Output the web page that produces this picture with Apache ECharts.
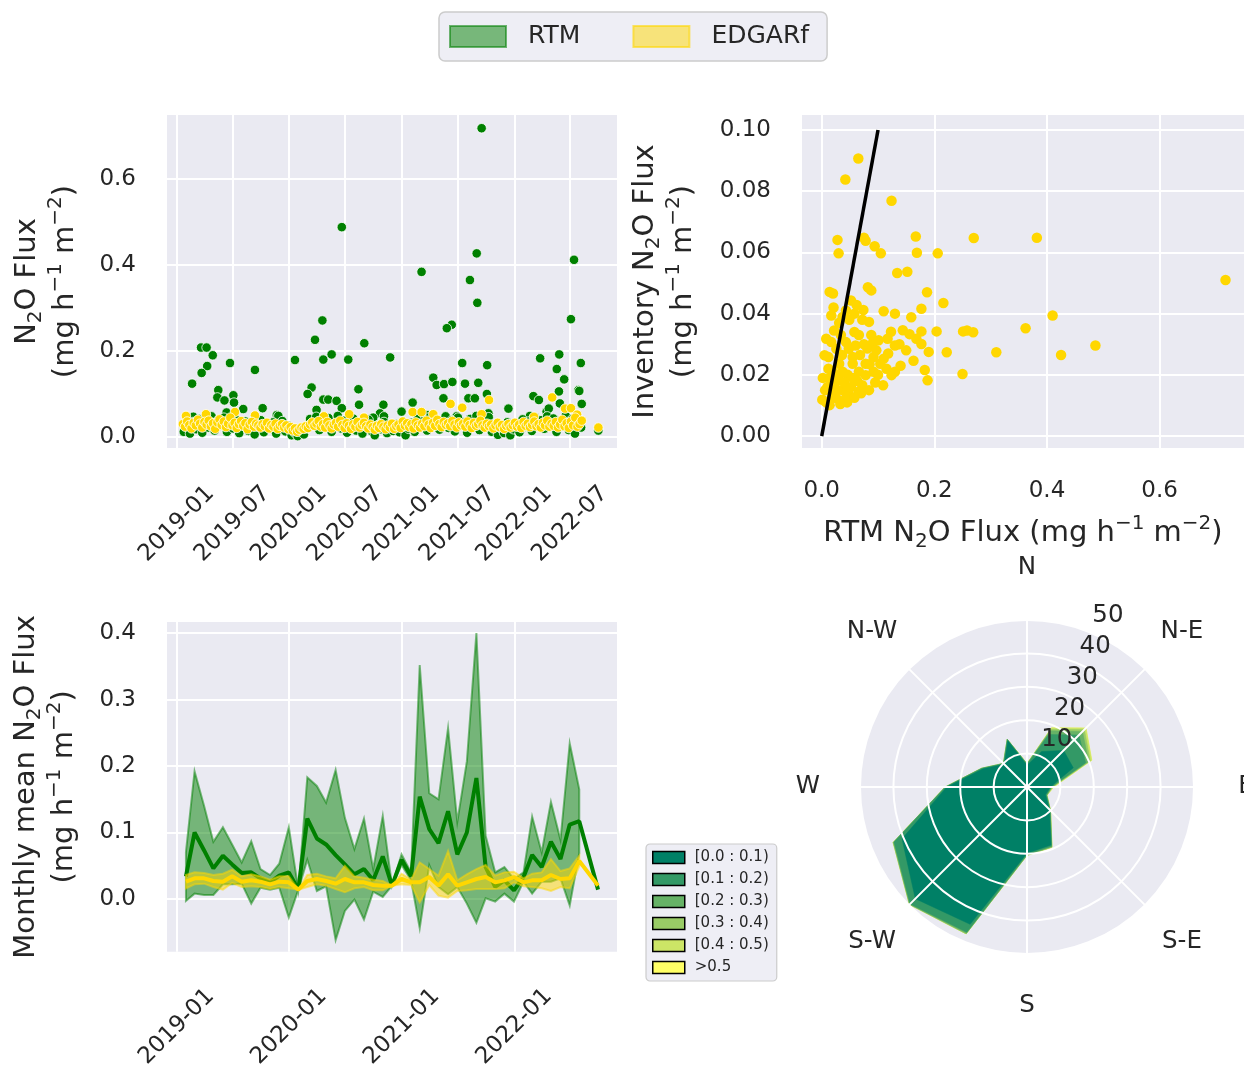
<!DOCTYPE html>
<html><head><meta charset="utf-8">
<script src="https://cdn.jsdelivr.net/npm/echarts@6/dist/echarts.min.js"></script>
<style>html,body{margin:0;padding:0;background:#fff}#c{width:1244px;height:1071px}</style>
</head><body><div id="c"></div>
<script>
// ---------------- DATA ----------------
// Top-left: sample day offsets from 2019-01-01 and flux (mg h-1 m-2)
const tlRTM = [
[990,0.718],[536,0.488],[974,0.427],[1290,0.412],[795,0.384],[952,0.365],[976,0.312],[1280,0.274],[473,0.271],[893,0.261],
[877,0.253],[449,0.226],[609,0.218],[79,0.208],[97,0.208],[117,0.19],[503,0.192],[476,0.180],[557,0.180],[693,0.185],
[384,0.179],[1242,0.192],[1180,0.183],[1312,0.172],[927,0.172],[173,0.172],[1008,0.167],[99,0.165],[254,0.156],[1234,0.158],
[81,0.149],[50,0.124],[1258,0.134],[833,0.138],[844,0.121],[868,0.123],[895,0.128],[936,0.124],[979,0.126],[135,0.109],
[438,0.115],[425,0.100],[590,0.111],[1241,0.106],[1304,0.109],[1307,0.107],[132,0.092],[155,0.085],[184,0.097],[866,0.090],
[1007,0.100],[1158,0.095],[1176,0.086],[947,0.090],[968,0.090],[476,0.087],[492,0.087],[519,0.084],[592,0.075],[671,0.075],
[766,0.080],[1315,0.077],[1244,0.078],[1077,0.066],[730,0.059],[216,0.065],[279,0.067],[186,0.080],[162,0.057],[454,0.063],
[536,0.067],[812,0.051],[1201,0.059],[1208,0.066],[1012,0.055],[660,0.055],[325,0.051],[330,0.049],[54,0.047],[638,0.045],
[673,0.048],[909,0.048],[1147,0.049],
[23,0.012],[33,0.025],[43,0.008],[53,0.035],[63,0.018],[73,0.042],[83,0.010],[93,0.030],[103,0.022],[113,0.048],[123,0.015],
[133,0.038],[143,0.027],[153,0.045],[163,0.012],[173,0.033],[183,0.020],[193,0.040],[203,0.009],[213,0.028],[223,0.036],
[233,0.014],[243,0.031],[253,0.006],[263,0.024],[273,0.039],[283,0.011],[293,0.027],[303,0.019],[313,0.034],[323,0.008],
[333,0.022],[343,0.037],[353,0.013],[363,0.026],[373,0.004],[383,0.010],[393,0.002],[403,0.015],[413,0.006],[423,0.020],
[433,0.042],[443,0.028],[453,0.047],[463,0.016],[473,0.036],[483,0.024],[493,0.044],[503,0.012],[513,0.031],[523,0.049],
[533,0.020],[543,0.038],[553,0.010],[563,0.029],[573,0.043],[583,0.015],[593,0.033],[603,0.008],[613,0.025],[623,0.040],
[633,0.013],[643,0.004],[653,0.027],[663,0.018],[673,0.035],[683,0.009],[693,0.022],[703,0.014],[713,0.030],[723,0.011],
[733,0.024],[743,0.004],[753,0.019],[763,0.033],[773,0.012],[783,0.044],[793,0.026],[803,0.038],[813,0.015],[823,0.047],
[833,0.029],[843,0.040],[853,0.017],[863,0.036],[873,0.048],[883,0.021],[893,0.039],[903,0.013],[913,0.045],[923,0.027],
[933,0.034],[943,0.010],[953,0.042],[963,0.025],[973,0.049],[983,0.016],[993,0.037],[1003,0.023],[1013,0.046],[1023,0.012],
[1033,0.028],[1043,0.005],[1053,0.020],[1063,0.009],[1073,0.034],[1083,0.004],[1093,0.018],[1103,0.030],[1113,0.011],
[1123,0.041],[1133,0.024],[1143,0.036],[1153,0.014],[1163,0.046],[1173,0.027],[1183,0.039],[1193,0.019],[1203,0.048],
[1213,0.031],[1223,0.043],[1233,0.012],[1243,0.037],[1253,0.025],[1263,0.049],[1273,0.016],[1283,0.041],[1293,0.008],
[1303,0.034],[1313,0.022],[1369,0.015]
];
const tlEDGAR = [
[30,0.049],[95,0.053],[189,0.058],[254,0.050],[560,0.053],[478,0.048],[608,0.045],[766,0.058],[795,0.058],[833,0.053],
[889,0.077],[927,0.068],[1014,0.086],[990,0.053],[1160,0.047],[1219,0.092],[1261,0.066],[1280,0.067],[1297,0.046],[1300,0.052],
[20,0.030],[27,0.024],[34,0.036],[41,0.028],[48,0.020],[55,0.033],[62,0.027],[69,0.040],[76,0.031],[83,0.022],[90,0.035],
[97,0.029],[104,0.038],[111,0.025],[118,0.032],[125,0.019],[132,0.034],[139,0.041],[146,0.028],[153,0.036],[160,0.023],
[167,0.031],[174,0.045],[181,0.027],[188,0.033],[195,0.021],[202,0.030],[209,0.037],[216,0.026],[223,0.032],[230,0.018],
[237,0.029],[244,0.035],[251,0.024],[258,0.031],[265,0.027],[272,0.022],[279,0.030],[286,0.025],[293,0.033],[300,0.020],
[307,0.028],[314,0.024],[321,0.031],[328,0.019],[335,0.026],[342,0.030],[349,0.022],[356,0.027],[363,0.018],[370,0.023],
[377,0.015],[384,0.020],[391,0.012],[398,0.017],[405,0.022],[412,0.019],[419,0.025],[426,0.021],[433,0.029],[440,0.034],
[447,0.026],[454,0.031],[461,0.037],[468,0.024],[475,0.030],[482,0.022],[489,0.035],[496,0.027],[503,0.020],[510,0.029],
[517,0.033],[524,0.024],[531,0.038],[538,0.028],[545,0.021],[552,0.032],[559,0.026],[566,0.019],[573,0.030],[580,0.024],
[587,0.035],[594,0.022],[601,0.028],[608,0.033],[615,0.025],[622,0.020],[629,0.029],[636,0.023],[643,0.017],[650,0.026],
[657,0.021],[664,0.030],[671,0.024],[678,0.018],[685,0.027],[692,0.022],[699,0.031],[706,0.019],[713,0.025],[720,0.029],
[727,0.021],[734,0.036],[741,0.026],[748,0.032],[755,0.023],[762,0.030],[769,0.020],[776,0.034],[783,0.027],[790,0.022],
[797,0.031],[804,0.025],[811,0.038],[818,0.029],[825,0.021],[832,0.033],[839,0.026],[846,0.040],[853,0.030],[860,0.023],
[867,0.035],[874,0.028],[881,0.032],[888,0.025],[895,0.037],[902,0.029],[909,0.022],[916,0.034],[923,0.027],[930,0.031],
[937,0.024],[944,0.036],[951,0.028],[958,0.021],[965,0.033],[972,0.026],[979,0.030],[986,0.038],[993,0.027],[1000,0.022],
[1007,0.031],[1014,0.025],[1021,0.029],[1028,0.020],[1035,0.027],[1042,0.033],[1049,0.023],[1056,0.028],[1063,0.019],
[1070,0.026],[1077,0.030],[1084,0.022],[1091,0.027],[1098,0.033],[1105,0.024],[1112,0.029],[1119,0.021],[1126,0.035],
[1133,0.026],[1140,0.031],[1147,0.023],[1154,0.028],[1161,0.036],[1168,0.025],[1175,0.030],[1182,0.022],[1189,0.033],
[1196,0.027],[1203,0.038],[1210,0.024],[1217,0.031],[1224,0.026],[1231,0.035],[1238,0.022],[1245,0.029],[1252,0.040],
[1259,0.025],[1266,0.032],[1273,0.021],[1280,0.036],[1287,0.027],[1294,0.045],[1301,0.024],[1308,0.030],[1315,0.038],
[1369,0.022]
];
// Top-right: [RTM, inventory] pairs
const trPairs = [
[0.065,0.0907],[0.042,0.0838],[0.124,0.0769],[0.028,0.0641],[0.075,0.0648],[0.078,0.0638],[0.094,0.0620],[0.105,0.0597],
[0.030,0.0597],[0.167,0.0652],[0.169,0.0599],[0.206,0.0597],[0.270,0.0647],[0.382,0.0648],[0.717,0.0510],[0.134,0.0533],
[0.152,0.0537],[0.014,0.0471],[0.020,0.0466],[0.082,0.0486],[0.088,0.0476],[0.187,0.0470],[0.216,0.0435],[0.177,0.0416],
[0.110,0.0408],[0.074,0.0412],[0.021,0.0420],[0.052,0.0443],[0.062,0.0428],[0.130,0.0400],[0.159,0.0388],[0.410,0.0394],
[0.362,0.0352],[0.486,0.0296],[0.425,0.0265],[0.310,0.0274],[0.251,0.0342],[0.258,0.0345],[0.269,0.0339],[0.204,0.0342],
[0.222,0.0274],[0.250,0.0203],[0.188,0.0182],[0.183,0.0216],[0.190,0.0275],[0.163,0.0246],[0.177,0.0301],[0.168,0.0318],
[0.177,0.0342],[0.156,0.0333],[0.144,0.0346],[0.123,0.0341],[0.130,0.0296],[0.117,0.0318],[0.101,0.0313],[0.091,0.0305],
[0.109,0.0166],[0.084,0.0150],[0.124,0.0199],[0.130,0.0210],[0.049,0.0134],[0.081,0.0286],[0.084,0.0373],[0.058,0.0400],
[0.037,0.0389],[0.017,0.0394],[0.008,0.0318],[0.005,0.0264],[0.002,0.0190],[0.001,0.0119],[0.014,0.0101],[0.026,0.0124],
[0.037,0.0150],[0.055,0.0190],[0.072,0.0166],[0.066,0.0210],[0.055,0.0236],[0.031,0.0236],[0.020,0.0210],[0.026,0.0285],
[0.043,0.0307],[0.060,0.0296],[0.049,0.0380],[0.031,0.0370],[0.012,0.0258],[0.020,0.0150],[0.043,0.0124],[0.066,0.0146],
[0.092,0.0210],[0.104,0.0236],[0.078,0.0236],[0.092,0.0258],[0.110,0.0253],[0.031,0.0199],[0.078,0.0199],[0.055,0.0258],
[0.037,0.0210],[0.014,0.0190],[0.066,0.0330],[0.017,0.0307],[0.043,0.0410],[0.072,0.0380],[0.010,0.0160],[0.024,0.0175],
[0.036,0.0265],[0.048,0.0285],[0.058,0.0340],[0.068,0.0265],[0.085,0.0235],[0.097,0.0280],[0.046,0.0200],[0.034,0.0330],
[0.022,0.0345],[0.012,0.0220],[0.006,0.0150],[0.028,0.0150],[0.040,0.0175],[0.052,0.0160],[0.063,0.0180],[0.075,0.0300],
[0.088,0.0330],[0.100,0.0200],[0.118,0.0270],[0.140,0.0230],[0.150,0.0280],[0.138,0.0300],[0.115,0.0220],[0.095,0.0175],
[0.070,0.0140],[0.058,0.0125],[0.045,0.0110],[0.033,0.0105],[0.018,0.0125],[0.008,0.0110]
];
const oneToOne = [[0,0],[0.1,0.1]];
// Bottom-left: monthly statistics
const months = [
'2019-01','2019-02','2019-03','2019-04','2019-05','2019-06','2019-07','2019-08','2019-09','2019-10','2019-11','2019-12',
'2020-01','2020-02','2020-03','2020-04','2020-05','2020-06','2020-07','2020-08','2020-09','2020-10','2020-11','2020-12',
'2021-01','2021-02','2021-03','2021-04','2021-05','2021-06','2021-07','2021-08','2021-09','2021-10','2021-11','2021-12',
'2022-01','2022-02','2022-03','2022-04','2022-05','2022-06','2022-07','2022-09'];
const rtmMean = [
0.034,0.100,0.073,0.046,0.065,0.052,0.039,0.040,0.031,0.025,0.035,0.040,
0.014,0.121,0.091,0.082,0.066,0.052,0.037,0.045,0.028,0.064,0.020,0.059,
0.034,0.154,0.105,0.084,0.132,0.067,0.100,0.182,0.048,0.018,0.028,0.013,
0.033,0.066,0.048,0.086,0.060,0.112,0.117,0.014];
const rtmStd = [
0.037,0.092,0.067,0.040,0.043,0.030,0.016,0.047,0.014,0.011,0.018,0.068,
0.000,0.062,0.079,0.063,0.128,0.070,0.038,0.076,0.017,0.061,0.000,0.008,
0.006,0.198,0.054,0.066,0.125,0.049,0.107,0.218,0.047,0.022,0.020,0.017,
0.007,0.058,0.022,0.060,0.029,0.122,0.048,null];
const edgMean = [
0.026,0.031,0.031,0.027,0.026,0.034,0.026,0.028,0.026,0.022,0.026,0.025,
0.014,0.027,0.030,0.027,0.023,0.030,0.025,0.025,0.021,0.020,0.020,0.030,
0.025,0.025,0.033,0.020,0.037,0.020,0.025,0.030,0.033,0.025,0.028,0.033,
0.025,0.028,0.028,0.036,0.030,0.031,0.057,0.020];
const edgStd = [
0.010,0.009,0.008,0.009,0.012,0.010,0.008,0.009,0.008,0.007,0.008,0.009,
0.000,0.009,0.008,0.007,0.008,0.020,0.009,0.007,0.008,0.007,0.000,0.008,
0.004,0.030,0.012,0.015,0.035,0.008,0.012,0.015,0.018,0.010,0.012,0.008,
0.006,0.010,0.012,0.024,0.012,0.015,0.008,null];
// Tick labels
const tlTicks = ['2019-01','2019-07','2020-01','2020-07','2021-01','2021-07','2022-01','2022-07'];
const blTicks = ['2019-01','2020-01','2021-01','2022-01'];
const tlYTicks = [0,0.2,0.4,0.6];
const trXTicks = [0,0.2,0.4,0.6];
const trYTicks = [0,0.02,0.04,0.06,0.08,0.10];
const blYTicks = [0,0.1,0.2,0.3,0.4];
// Wind rose: 16 directions from N clockwise, counts per speed bin
const roseAngles = [0,22.5,45,67.5,90,112.5,135,157.5,180,202.5,225,247.5,270,292.5,315,337.5];
const binNames = ['[0.0 : 0.1)','[0.1 : 0.2)','[0.2 : 0.3)','[0.3 : 0.4)','[0.4 : 0.5)','>0.5'];
const bin0 = [6.5,11.5,15.5,15.0,7.0,6.0,9.5,18.8,19.8,44.5,47.3,40.5,24.0,14.2,9.6,15.0];
const bin1 = [0.3,5.5,6.5,4.0,0.3,0.3,0.3,0.4,0.4,2.6,2.2,2.6,0.4,0.4,0.3,0.4];
const bin2 = [0.1,1.2,1.5,1.0,0.2,0.1,0.1,0.2,0.2,0.3,0.2,0.2,0.1,0.1,0.1,0.1];
const bin3 = [0.1,0.5,0.8,0.5,0.2,0.1,0.1,0.1,0.1,0.2,0.1,0.1,0.0,0.0,0.0,0.0];
const bin4 = [0.0,0.5,0.7,0.5,0.3,0.0,0.0,0.1,0.0,0.0,0.0,0.0,0.0,0.0,0.0,0.0];
const bin5 = [0,0,0,0,0,0,0,0,0,0,0,0,0,0,0,0];
const roseRadTicks = [10,20,30,40,50];
const roseDirLabels = ['N','N-E','E','S-E','S','S-W','W','N-W'];
const roseDirAngles = [0,45,90,135,180,225,270,315];

// ---------------- HELPERS ----------------
const FONT = 'DejaVu Sans';
const TXT = '#262626';
const TICK = 23;
const DAY = 86400000;
const T0 = Date.UTC(2019,0,1);
const dayTs = d => T0 + d*DAY;
const monthStart = s => { const [y,m] = s.split('-').map(Number); return Date.UTC(y, m-1, 1); };
const monthEnd = s => { const [y,m] = s.split('-').map(Number); return Date.UTC(y, m, 0); };
const fmtDate = v => { const d = new Date(v); return d.getUTCFullYear() + '-' + String(d.getUTCMonth()+1).padStart(2,'0'); };
const monthTs = months.map(monthEnd);
const binColors = ['#008066','#339966','#66b266','#99cc66','#cce566','#ffff66'];
const bins = [bin0,bin1,bin2,bin3,bin4,bin5];
const cum = []; bins.forEach((b,k)=>{ cum.push(b.map((v,j)=> v + (k>0 ? cum[k-1][j] : 0))); });

const X_MIN = dayTs(-31.5), X_MAX = dayTs(1429.5);
function gridAxisCommon(){
  return {
    axisLine:{show:false}, axisTick:{show:false},
    splitLine:{show:true, lineStyle:{color:'#ffffff', width:2}}
  };
}
function timeX(gridIndex, ticks, margin){
  return Object.assign(gridAxisCommon(), {
    type:'value', gridIndex, min:X_MIN, max:X_MAX,
    axisTick:{show:false, customValues: ticks.map(monthStart)},
    axisLabel:{customValues: ticks.map(monthStart), formatter: fmtDate, rotate:45, align:'center', verticalAlign:'middle',
      margin, color:TXT, fontSize:TICK, fontFamily:FONT}
  });
}
function valAxis(gridIndex, min, max, ticks, dec, extra){
  return Object.assign(gridAxisCommon(), {
    type:'value', gridIndex, min, max,
    axisTick:{show:false, customValues: ticks},
    axisLabel:{customValues: ticks, formatter: v => Number(v).toFixed(dec), margin:31, color:TXT, fontSize:TICK, fontFamily:FONT,
      padding:[7,0,0,0]}
  }, extra || {});
}
// math-like rich text for axis titles
const richName = {
  t:{fontSize:29, color:TXT, fontFamily:FONT, lineHeight:38},
  sup:{fontSize:20, color:TXT, fontFamily:FONT, lineHeight:21, verticalAlign:'top'},
  sub:{fontSize:20, color:TXT, fontFamily:FONT, lineHeight:21, verticalAlign:'bottom'}
};
const nameStyle = {fontSize:29, color:TXT, fontFamily:FONT, lineHeight:38, rich: richName};
const UNIT = '{t|(mg h}{sup|\u22121}{t| m}{sup|\u22122}{t|)}';
const N2O = '{t|N}{sub|2}{t|O Flux}';

function band(means, stds, color, z){
  const pts = [];
  months.forEach((m,i)=>{ if (stds[i] != null) pts.push([monthTs[i], means[i]-stds[i], means[i]+stds[i]]); });
  return {
    type:'custom', xAxisIndex:2, yAxisIndex:2, z, silent:true, data: pts,
    encode:{x:0, y:[1,2]},
    renderItem(params, api){
      if (params.dataIndex !== 0) return null;
      const up = pts.map(p => api.coord([p[0], p[2]]));
      const lo = pts.map(p => api.coord([p[0], p[1]])).reverse();
      return {type:'polygon', shape:{points: up.concat(lo)}, style:{fill:color, stroke:color, lineWidth:2}};
    }
  };
}

const series = [];
// top-left scatter
series.push({type:'scatter', name:'RTM pts', xAxisIndex:0, yAxisIndex:0, symbolSize:9.5, silent:true,
  itemStyle:{color:'#008000', borderColor:'#ffffff', borderWidth:0.8, opacity:1},
  data: tlRTM.map(p => [dayTs(p[0]), p[1]])});
series.push({type:'scatter', name:'EDGARf pts', xAxisIndex:0, yAxisIndex:0, symbolSize:9.5, silent:true,
  itemStyle:{color:'#FFD700', borderColor:'#ffffff', borderWidth:0.8, opacity:1},
  data: tlEDGAR.map(p => [dayTs(p[0]), p[1]])});
// top-right
series.push({type:'scatter', name:'pairs', xAxisIndex:1, yAxisIndex:1, symbolSize:10.5, silent:true,
  itemStyle:{color:'#FFD700', opacity:1}, data: trPairs});
series.push({type:'line', name:'1:1', xAxisIndex:1, yAxisIndex:1, symbol:'none', silent:true,
  lineStyle:{color:'#000', width:3.5}, data: oneToOne, z:5});
// bottom-left
series.push(band(rtmMean, rtmStd, 'rgba(0,128,0,0.5)', 2));
series.push({type:'line', name:'RTM', xAxisIndex:2, yAxisIndex:2, symbol:'none', silent:true, z:3,
  lineStyle:{color:'#008000', width:4}, itemStyle:{color:'#008000'},
  data: months.map((m,i)=>[monthTs[i], rtmMean[i]])});
series.push(band(edgMean, edgStd, 'rgba(255,215,0,0.5)', 4));
series.push({type:'line', name:'EDGARf', xAxisIndex:2, yAxisIndex:2, symbol:'none', silent:true, z:5,
  lineStyle:{color:'#FFD700', width:4}, itemStyle:{color:'#FFD700'},
  data: months.map((m,i)=>[monthTs[i], edgMean[i]])});
// wind rose polygons: largest cumulative first, innermost on top
for (let k = 5; k >= 0; k--) {
  const c = cum[k];
  series.push({type:'custom', name: binNames[k], coordinateSystem:'polar', polarIndex:0, z:2+(5-k)*0.01, silent:true,
    itemStyle:{color: binColors[k]},
    data: c.map((r,j)=>[r, roseAngles[j]]),
    renderItem(params, api){
      if (params.dataIndex !== 0) return null;
      const pts = c.map((r,j)=>api.coord([r, roseAngles[j]]));
      return {type:'polygon', shape:{points:pts}, style:{fill: binColors[k], stroke: binColors[k], lineWidth:0.5}};
    }});
}
// rose direction labels
series.push({type:'custom', coordinateSystem:'polar', polarIndex:1, z:20, silent:true,
  data: roseDirAngles.map(a=>[65.6, a]),
  renderItem(params, api){
    const p = api.coord([api.value(0), api.value(1)]);
    return {type:'text', x:p[0], y:p[1], style:{text: roseDirLabels[params.dataIndex], fill:TXT, fontSize:24.5, fontFamily:FONT, align:'center', verticalAlign:'middle'}};
  }});
// rose radial labels
series.push({type:'custom', coordinateSystem:'polar', polarIndex:1, z:20, silent:true,
  data: roseRadTicks.map(r=>[r, 22.5]),
  renderItem(params, api){
    const p = api.coord([api.value(0), api.value(1)]);
    return {type:'text', x:p[0]+17, y:p[1]-17, style:{text: String(roseRadTicks[params.dataIndex]), fill:TXT, fontSize:24.5, fontFamily:FONT, align:'center', verticalAlign:'middle'}};
  }});

const polarAxisHidden = {axisLine:{show:false}, axisTick:{show:false}, axisLabel:{show:false}, splitLine:{show:false}};
const option = {
  animation:false,
  textStyle:{fontFamily:FONT},
  grid:[
    {left:167, top:115, width:450, height:333, show:true, backgroundColor:'#eaeaf2', borderWidth:0},
    {left:802, top:115, width:450, height:333, show:true, backgroundColor:'#eaeaf2', borderWidth:0},
    {left:167, top:622, width:450, height:331, show:true, backgroundColor:'#eaeaf2', borderWidth:0}
  ],
  xAxis:[
    timeX(0, tlTicks, 76),
    valAxis(1, -0.035, 0.7498, trXTicks, 1, {name:'{t|RTM }' + N2O + '{t| }' + UNIT, nameLocation:'middle', nameGap:66,
      nameTextStyle:nameStyle,
      axisLabel:{customValues: trXTicks, formatter: v=>Number(v).toFixed(1), margin:32, color:TXT, fontSize:TICK, fontFamily:FONT}}),
    timeX(2, blTicks, 75)
  ],
  yAxis:[
    valAxis(0, -0.0256, 0.7488, tlYTicks, 1, {name: N2O + '\n' + UNIT, nameLocation:'middle', nameRotate:90, nameGap:83, nameTextStyle:nameStyle}),
    valAxis(1, -0.0039, 0.1049, trYTicks, 2, {name:'{t|Inventory }' + N2O + '\n' + UNIT, nameLocation:'middle', nameRotate:90, nameGap:100, nameTextStyle:nameStyle}),
    valAxis(2, -0.0795, 0.4168, blYTicks, 1, {name:'{t|Monthly mean }' + N2O + '\n' + UNIT, nameLocation:'middle', nameRotate:90, nameGap:84, nameTextStyle:nameStyle})
  ],
  polar:[{center:[1027,787], radius:167},{center:[1027,787], radius:167}],
  angleAxis:[
    Object.assign({polarIndex:0, type:'value', min:0, max:360, interval:45, startAngle:90, clockwise:true, z:0}, polarAxisHidden),
    Object.assign({polarIndex:1, type:'value', min:0, max:360, interval:45, startAngle:90, clockwise:true, z:10}, polarAxisHidden,
      {splitLine:{show:true, lineStyle:{color:'#ffffff', width:2}}})
  ],
  radiusAxis:[
    Object.assign({polarIndex:0, type:'value', min:0, max:50, interval:10, z:0}, polarAxisHidden,
      {splitArea:{show:true, areaStyle:{color:['#eaeaf2']}}}),
    Object.assign({polarIndex:1, type:'value', min:0, max:50, interval:10, z:10}, polarAxisHidden,
      {splitLine:{show:true, lineStyle:{color:'#ffffff', width:2}}})
  ],
  legend:[
    {left:439, top:12, orient:'horizontal', padding:[12,18,12,10], itemWidth:56, itemHeight:21, itemGap:52, icon:'rect',
      selectedMode:false, backgroundColor:'#eeeef5', borderColor:'#cccccc', borderWidth:1.5, borderRadius:6,
      textStyle:{fontSize:25, color:TXT, fontFamily:FONT, padding:[0,0,0,17]},
      data:[
        {name:'RTM', itemStyle:{color:'rgba(0,128,0,0.5)', borderColor:'rgba(0,128,0,0.55)', borderWidth:2}},
        {name:'EDGARf', itemStyle:{color:'rgba(255,215,0,0.5)', borderColor:'rgba(255,215,0,0.6)', borderWidth:2}}
      ]},
    {left:646, top:844, orient:'vertical', padding:[6,8,6,6], itemWidth:32, itemHeight:12, itemGap:7, icon:'rect',
      selectedMode:false, backgroundColor:'#eeeef5', borderColor:'#cccccc', borderWidth:1.2, borderRadius:4,
      textStyle:{fontSize:15, color:TXT, fontFamily:FONT, padding:[0,0,0,5]},
      data: binNames.map((n,i)=>({name:n, itemStyle:{color: binColors[i], borderColor:'#000000', borderWidth:1.5}}))}
  ],
  series
};
const chart = echarts.init(document.getElementById('c'), null, {renderer:'canvas'});
chart.setOption(option);
</script>
</body></html>
